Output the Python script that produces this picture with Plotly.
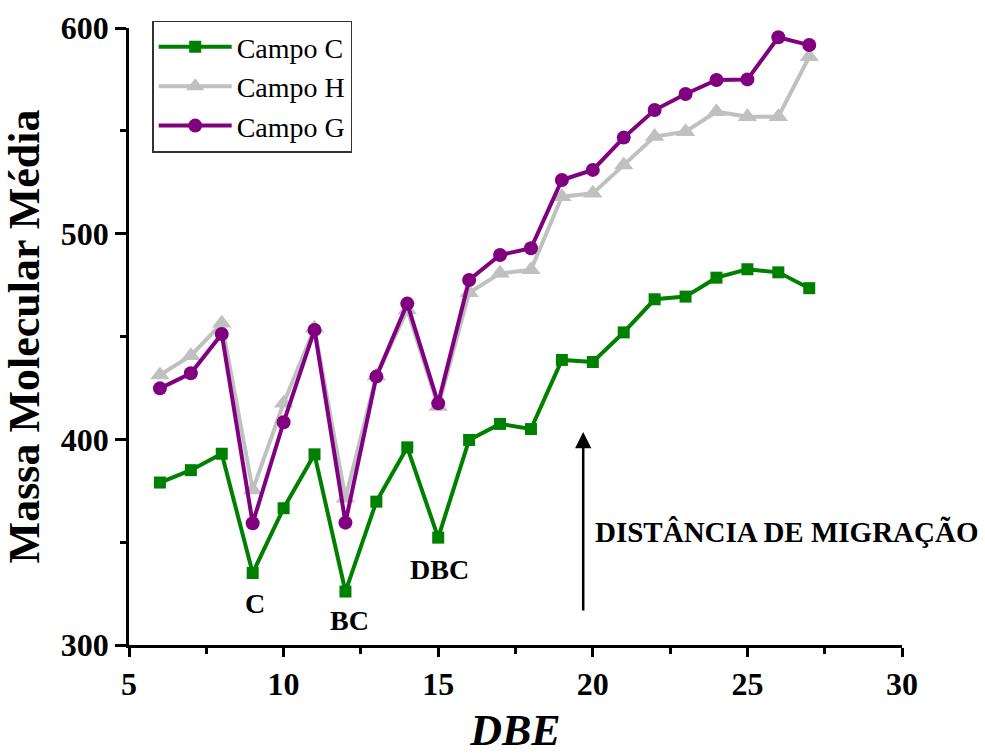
import plotly.graph_objects as go

dbe = list(range(6, 28))
campo_c = [379, 385, 393, 335, 366.5, 392.7, 326, 369.7, 396.1, 352.2, 399.7, 407.5,
           405, 438.6, 437.6, 452, 468.1, 469.4, 478.6, 482.7, 481.2, 473.5]
campo_h = [431.3, 440.7, 456.4, 375.4, 417.5, 454, 371.4, 430.8, 462.9, 416, 471.3, 480.7,
           482.4, 518, 519.6, 533.4, 547.2, 549.6, 559.3, 556.9, 556.9, 586]
campo_g = [424.8, 432.1, 451.2, 359.2, 408.3, 453.2, 359.5, 430.5, 466, 417.5, 477.5, 489.6,
           492.9, 526.1, 531, 546.7, 560.1, 567.9, 574.7, 575, 595.5, 591.7]

series = [
    ("Campo C", campo_c, "#008000", "square", 12),
    ("Campo H", campo_h, "#C0C0C0", "triangle-up", 17),
    ("Campo G", campo_g, "#800080", "circle", 14),
]

FONT = "Liberation Serif"

fig = go.Figure()
for name, vals, color, sym, msize in series:
    fig.add_trace(go.Scatter(
        x=dbe, y=vals, name=name, mode="lines+markers",
        line=dict(color=color, width=4),
        marker=dict(symbol=sym, size=msize, color=color),
        cliponaxis=False,
    ))

labels = [("C", 9.08, 320), ("BC", 12.12, 311.7), ("DBC", 15.03, 336.5)]
for txt, lx, ly in labels:
    fig.add_annotation(x=lx, y=ly, text="<b>%s</b>" % txt, showarrow=False,
                       font=dict(family=FONT, size=28, color="black"))

fig.add_annotation(x=20.02, y=355, text="<b>DISTÂNCIA DE MIGRAÇÃO</b>", showarrow=False,
                   xanchor="left", font=dict(family=FONT, size=29, color="black"))

fig.add_annotation(x=19.69, y=403.6, ax=19.69, ay=316, axref="x", ayref="y",
                   text="", showarrow=True, arrowhead=2, arrowsize=1.3,
                   arrowwidth=2.5, arrowcolor="black")

fig.update_layout(
    width=985, height=755,
    margin=dict(l=129, r=83, t=28, b=110),
    plot_bgcolor="white", paper_bgcolor="white",
    font=dict(family=FONT, color="black"),
    showlegend=True,
    legend=dict(x=0.03, y=1.012, xanchor="left", yanchor="top",
                bgcolor="white", bordercolor="#333333", borderwidth=1.5,
                font=dict(family=FONT, size=28, color="black"),
                itemwidth=73),
    xaxis=dict(range=[5, 30], dtick=5, tick0=5, showgrid=False, zeroline=False,
               automargin=False,
               showline=True, linecolor="black", linewidth=2.5,
               ticks="outside", ticklen=9, tickwidth=2.5, tickcolor="black",
               tickfont=dict(family=FONT, size=32, color="black"),
               tickprefix="<b>", ticksuffix="</b>",
               minor=dict(dtick=2.5, tick0=5, ticks="outside", ticklen=6,
                          tickwidth=2.5, tickcolor="black", showgrid=False),
               title=dict(text="<b><i>DBE</i></b>", standoff=32,
                          font=dict(family=FONT, size=44, color="black"))),
    yaxis=dict(range=[300, 600], dtick=100, tick0=300, showgrid=False, zeroline=False,
               automargin=False,
               showline=True, linecolor="black", linewidth=2.5,
               ticks="outside", ticklen=11, tickwidth=2.5, tickcolor="black",
               tickfont=dict(family=FONT, size=32, color="black"),
               tickprefix="<b>", ticksuffix="</b>",
               minor=dict(dtick=50, tick0=300, ticks="outside", ticklen=6,
                          tickwidth=2.5, tickcolor="black", showgrid=False),
               title=dict(text="<b>Massa Molecular Média</b>", standoff=8,
                          font=dict(family=FONT, size=44, color="black"))),
)

fig.write_html("out.html")
